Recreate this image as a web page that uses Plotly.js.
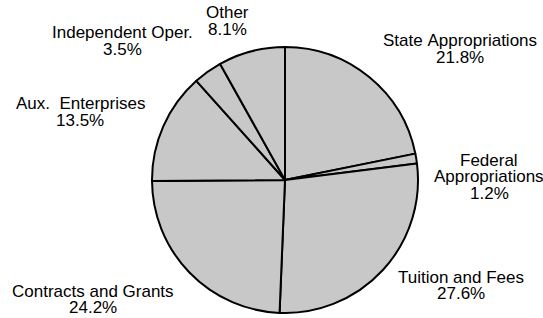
<!DOCTYPE html>
<html>
<head>
<meta charset="utf-8">
<script src="https://cdn.plot.ly/plotly-3.0.1.min.js"></script>
<style>
html,body{margin:0;padding:0;background:#fff;}
#chart{width:543px;height:318px;}
</style>
</head>
<body>
<div id="chart"></div>
<script>
// Data
const categories = ["State Appropriations", "Federal<br>Appropriations", "Tuition and Fees", "Contracts and Grants", "Aux.  Enterprises", "Independent Oper.", "Other"];
const shares = [21.8, 1.2, 27.6, 24.2, 13.5, 3.5, 8.1];

// Layout (pixel positions of label blocks: centre x, centre y of first line)
const W = 543, H = 318;
const labelPos = [[460, 41], [489, 160], [461, 277], [93, 291], [80, 104], [122, 33], [227, 13]];
const lineGap = 16.5;
const cx = 285, cy = 180, r = 133;

const annotations = [];
categories.forEach((cat, i) => {
  const lines = cat.split("<br>").concat([shares[i].toFixed(1) + "%"]);
  lines.forEach((ln, j) => {
    annotations.push({
      xref: "paper", yref: "paper",
      x: labelPos[i][0] / W,
      y: 1 - (labelPos[i][1] + j * lineGap) / H,
      xanchor: "center", yanchor: "middle",
      text: ln.replace(/ /g, "\u00a0"),
      showarrow: false,
      font: {family: "Liberation Sans, Arial, sans-serif", size: 17, color: "#000"}
    });
  });
});

const trace = {
  type: "pie",
  labels: categories,
  values: shares,
  sort: false,
  direction: "clockwise",
  rotation: 0,
  textinfo: "none",
  hoverinfo: "label+percent",
  marker: {colors: categories.map(() => "#c8c8c8"), line: {color: "#000", width: 2}},
  domain: {x: [(cx - r) / W, (cx + r) / W], y: [1 - (cy + r) / H, 1 - (cy - r) / H]},
  showlegend: false
};

Plotly.newPlot("chart", [trace], {
  width: W, height: H,
  margin: {l: 0, r: 0, t: 0, b: 0},
  paper_bgcolor: "#fff",
  showlegend: false,
  annotations: annotations
}, {displayModeBar: false, staticPlot: true});
</script>
</body>
</html>
